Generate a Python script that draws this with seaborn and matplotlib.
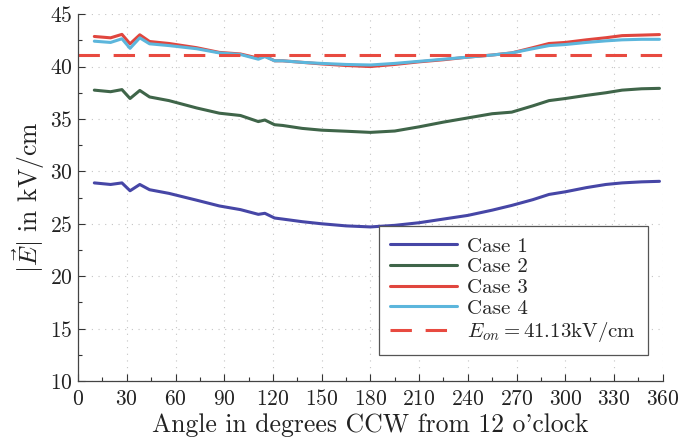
import numpy as np
import pandas as pd
import matplotlib
matplotlib.use("Agg")
import matplotlib.pyplot as plt
import seaborn as sns

# Angle (degrees CCW from 12 o'clock) and field magnitude in kV/cm
angles = [10, 20, 27, 32, 38, 44, 56, 73, 87, 100, 111, 115, 121, 126, 138, 150,
          165, 180, 195, 210, 225, 240, 255, 267, 280, 290, 300, 313, 325, 335, 347, 358]

case1 = [28.9, 28.75, 28.9, 28.15, 28.75, 28.25, 27.9, 27.25, 26.7, 26.35, 25.9, 26.0,
         25.55, 25.45, 25.2, 25.0, 24.8, 24.7, 24.85, 25.1, 25.45, 25.8, 26.3, 26.75,
         27.3, 27.8, 28.05, 28.45, 28.75, 28.9, 29.0, 29.05]
case2 = [37.75, 37.6, 37.8, 36.95, 37.72, 37.1, 36.75, 36.05, 35.55, 35.33, 34.75, 34.9,
         34.45, 34.38, 34.1, 33.93, 33.83, 33.72, 33.85, 34.25, 34.7, 35.1, 35.5, 35.65,
         36.25, 36.75, 36.95, 37.25, 37.5, 37.75, 37.88, 37.92]
case3 = [42.87, 42.74, 43.07, 42.17, 43.03, 42.39, 42.2, 41.8, 41.35, 41.2, 40.8, 41.0,
         40.55, 40.55, 40.4, 40.25, 40.1, 40.0, 40.2, 40.45, 40.65, 40.9, 41.1, 41.3,
         41.8, 42.2, 42.3, 42.55, 42.75, 42.95, 43.0, 43.05]
case4 = [42.42, 42.3, 42.65, 41.74, 42.74, 42.17, 42.0, 41.7, 41.3, 41.15, 40.7, 40.95,
         40.55, 40.55, 40.4, 40.3, 40.2, 40.15, 40.3, 40.5, 40.7, 40.9, 41.1, 41.3,
         41.7, 42.0, 42.1, 42.3, 42.45, 42.55, 42.6, 42.6]
case_names = ["Case 1", "Case 2", "Case 3", "Case 4"]
e_on = 41.13

df = pd.DataFrame({
    "angle": angles * 4,
    "field": case1 + case2 + case3 + case4,
    "case": sum([[n] * len(angles) for n in case_names], []),
})

sns.set_style("ticks")
plt.rcParams["font.family"] = ["cmr10", "DejaVu Serif"]
plt.rcParams["mathtext.fontset"] = "cm"
plt.rcParams["axes.formatter.use_mathtext"] = True

palette = {"Case 1": "#4646a6", "Case 2": "#3f6549",
           "Case 3": "#e0463e", "Case 4": "#5cb6dc"}

fig = plt.figure(figsize=(6.79, 4.42), dpi=100)
ax = fig.add_axes([0.115, 0.138, 0.861, 0.83])

sns.lineplot(data=df, x="angle", y="field", hue="case", palette=palette,
             linewidth=2.2, ax=ax, legend=True)
ax.axhline(e_on, color="#e84a40", linestyle=(0, (7, 4.5)), linewidth=2.2,
           label=r"$E_{on} = 41.13$kV/cm")

ax.set_xlim(0, 360)
ax.set_ylim(10, 45)
ax.set_xticks(np.arange(0, 361, 30))
ax.set_xticks(np.arange(0, 361, 15), minor=True)
ax.set_yticks(np.arange(10, 46, 5))
ax.set_yticks(np.arange(10, 46, 2.5), minor=True)
ax.tick_params(axis="both", which="both", direction="in", labelsize=15.5,
               colors="#333333", labelcolor="#222222")
ax.tick_params(axis="x", which="major", pad=6)
ax.tick_params(axis="y", which="major", pad=4)
ax.tick_params(which="major", length=5, width=0.8)
ax.tick_params(which="minor", length=3, width=0.8)
ax.grid(True, which="major", linestyle=(0, (1, 5)), color="#c4c4c4", linewidth=0.8)

for side in ["top", "right"]:
    ax.spines[side].set_visible(False)
for side in ["left", "bottom"]:
    ax.spines[side].set_color("#444444")
    ax.spines[side].set_linewidth(0.9)

ax.set_xlabel("Angle in degrees CCW from 12 o'clock", fontsize=18.5, color="#222222",
              labelpad=3)
ax.set_ylabel(r"$|\vec{E}|$ in kV/cm", fontsize=18.5, color="#222222", labelpad=2)

handles, labels = ax.get_legend_handles_labels()
leg = ax.legend(handles, labels, loc="lower right", bbox_to_anchor=(0.974, 0.07),
                fontsize=15, frameon=True, fancybox=False, edgecolor="#555555",
                framealpha=1, handlelength=3.2, labelspacing=0.1,
                borderpad=0.55, handletextpad=0.5, borderaxespad=0)
leg.get_frame().set_linewidth(0.9)

fig.savefig("out.png", dpi=100)
